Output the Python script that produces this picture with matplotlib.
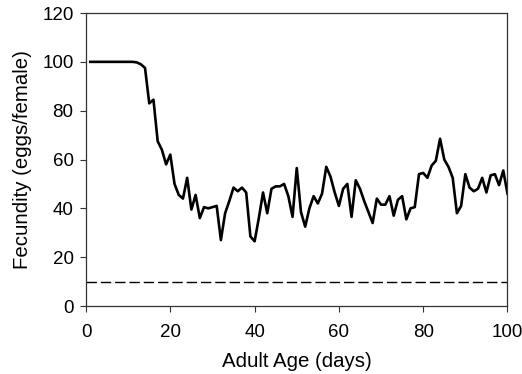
import matplotlib
matplotlib.use("Agg")
import matplotlib.pyplot as plt

plt.rcParams['font.family'] = ['Liberation Sans', 'DejaVu Sans']

days = list(range(1, 101))
fecundity = [100]*11 + [
    99.8, 99, 97.5, 83, 84.5, 67.5, 64, 58, 62,
    50, 45.5, 44, 52.5, 39.5, 45.5, 36, 40.5, 40, 40.5,
    41, 27, 38, 43, 48.5, 47, 48.5, 46.5, 28.5, 26.5,
    36, 46.5, 38, 48, 49, 49, 50, 45, 36.5, 56.5,
    38.5, 32.5, 40, 45, 42, 46, 57, 53, 46.5, 41,
    48, 50, 36.5, 51.5, 48, 43, 38.5, 34, 44, 41.5,
    41.5, 45, 37, 43.5, 45, 35.5, 40, 40.5, 54, 54.5,
    52.5, 57.5, 59.5, 68.5, 60, 57, 52.5, 38, 41, 54,
    48.5, 47, 48, 52.5, 46.5, 53.5, 54, 49.5, 55.5, 46,
]
threshold = 10
x_ticks = [0, 20, 40, 60, 80, 100]
y_ticks = [0, 20, 40, 60, 80, 100, 120]

fig = plt.figure(figsize=(5.22, 3.74), dpi=100)
ax = fig.add_axes([0.1648, 0.1818, 0.9722 - 0.1648, 0.9652 - 0.1818])

ax.plot(days, fecundity, color='black', lw=1.9, solid_joinstyle='round')
ax.axhline(threshold, color='black', lw=1.0, dashes=(7.5, 2.8))

ax.set_xlim(0, 100)
ax.set_ylim(0, 120)
ax.set_xticks(x_ticks)
ax.set_yticks(y_ticks)
ax.tick_params(direction='out', length=4, width=0.8, labelsize=13.5, color='#333333')
ax.tick_params(axis='x', pad=9)
ax.tick_params(axis='y', pad=5)
for s in ax.spines.values():
    s.set_linewidth(0.9)
    s.set_color('#333333')

ax.set_xlabel('Adult Age (days)', fontsize=14.7, labelpad=8)
ax.set_ylabel('Fecundity (eggs/female)', fontsize=14.7, labelpad=7)

fig.savefig('out.png', dpi=100)
